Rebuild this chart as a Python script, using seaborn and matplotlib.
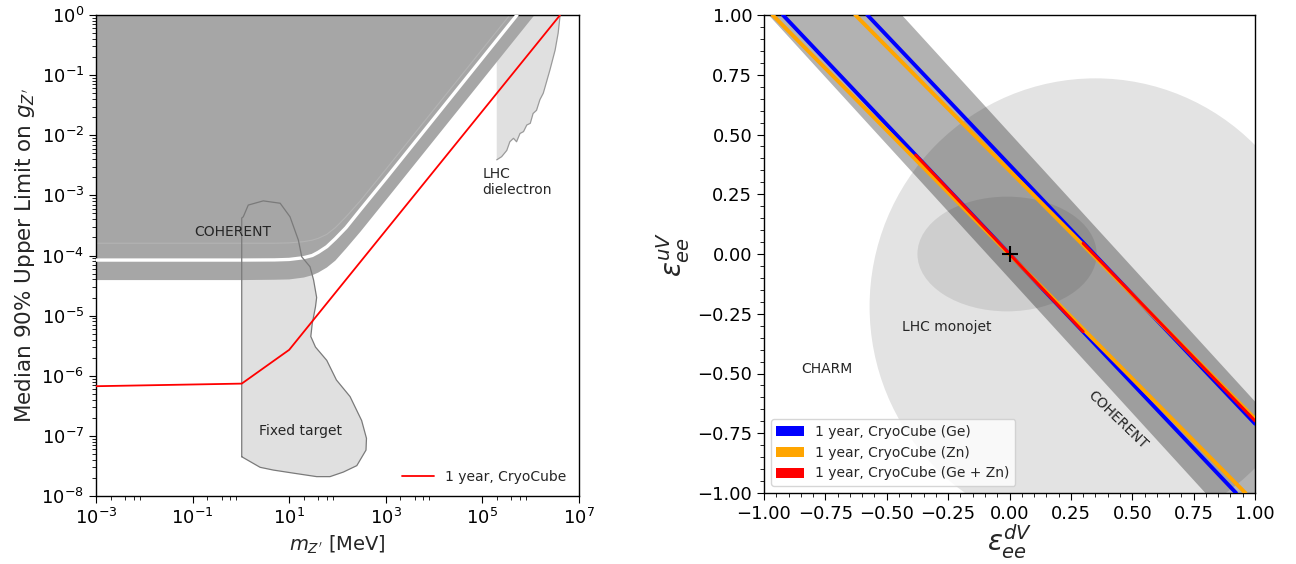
import matplotlib
matplotlib.use("Agg")
import matplotlib.pyplot as plt
from matplotlib.patches import Ellipse, Patch
from matplotlib.ticker import FixedLocator, LogLocator, NullFormatter, AutoMinorLocator
import seaborn as sns

# ---- left panel: Z' mass vs coupling ----
coh_low_m = [1e-3, 1e0, 5e0, 1e1, 2e1, 3e1, 4e1, 6e1, 9e1, 1.5e2, 3e2, 1e3, 1.2e6]
coh_low_g = [3.9e-5, 3.9e-5, 3.95e-5, 4.0e-5, 4.3e-5, 4.7e-5, 5.2e-5, 6.3e-5, 8.2e-5, 1.3e-4, 2.5e-4, 8.3e-4, 1.0]
coh_mid_m = [1e-3, 1e0, 5e0, 1e1, 2e1, 3e1, 4e1, 6e1, 9e1, 1.5e2, 3e2, 1e3, 5.2e5]
coh_mid_g = [8.4e-5, 8.4e-5, 8.45e-5, 8.6e-5, 9.2e-5, 1.0e-4, 1.13e-4, 1.4e-4, 1.9e-4, 2.9e-4, 5.8e-4, 1.9e-3, 1.0]
coh_top_m = [1e-3, 1e0, 5e0, 1e1, 2e1, 3e1, 4e1, 6e1, 9e1, 1.5e2, 3e2, 1e3, 3.7e5]
coh_top_g = [1.6e-4, 1.6e-4, 1.6e-4, 1.62e-4, 1.7e-4, 1.8e-4, 1.93e-4, 2.25e-4, 2.9e-4, 4.4e-4, 8.2e-4, 2.7e-3, 1.0]

fixed_m = [1.04, 1.04, 1.12, 1.42, 2.9, 6.5, 10.4, 15.5, 18.2, 27, 32, 37, 35, 30, 28,
           35, 60, 95, 182, 316, 398, 389, 251, 132, 70, 37, 12.2, 4.7, 2.5]
fixed_g = [4.5e-8, 4.2e-4, 4.4e-4, 6.9e-4, 8.1e-4, 7.4e-4, 4.4e-4, 1.8e-4, 9.5e-5, 6.5e-5,
           3.9e-5, 2.0e-5, 1.4e-5, 7.4e-6, 4.5e-6, 3.0e-6, 1.8e-6, 8.5e-7, 4.5e-7, 1.8e-7,
           9.1e-8, 5.8e-8, 3.2e-8, 2.5e-8, 2.1e-8, 2.1e-8, 2.4e-8, 2.7e-8, 3.0e-8]

lhc_di_m = [1.98e5, 1.98e5, 2.5e5, 3.2e5, 3.7e5, 4.4e5, 5.1e5, 6.0e5, 7.1e5, 8.3e5, 9.8e5,
            1.12e6, 1.32e6, 1.55e6, 1.82e6, 2.0e6, 2.5e6, 3.2e6, 3.7e6, 4.07e6]
lhc_di_g = [1.0, 3.9e-3, 4.4e-3, 5.6e-3, 7.8e-3, 8.9e-3, 7.8e-3, 1.07e-2, 1.15e-2, 1.48e-2,
            1.58e-2, 2.3e-2, 2.6e-2, 3.9e-2, 5.0e-2, 6.5e-2, 0.122, 0.26, 0.5, 1.0]

cryo_m = [1e-3, 1.04, 10.0, 4.07e6]
cryo_g = [6.7e-7, 7.4e-7, 2.7e-6, 1.0]

# ---- right panel: epsilon_ee^dV vs epsilon_ee^uV ----
band_x = [-1.2, 1.2]
band_lo = [1.246, -1.452]
band_hi = [1.856, -0.842]
ge_lines = [([-0.923, 0.923], [1.0, -1.0]), ([-0.579, 1.0], [1.0, -0.710])]
zn_lines = [([-0.965, 0.961], [1.0, -1.0]), ([-0.628, 1.0], [1.0, -0.689])]
gezn_lines = [([-0.382, 0.30], [0.414, -0.325]), ([0.30, 1.0], [0.045, -0.698])]
charm_center, charm_w, charm_h = (0.35, -0.22), 1.84, 1.91
monojet_center, monojet_w, monojet_h = (-0.01, 0.0), 0.73, 0.48
legend_labels = ["1 year, CryoCube (Ge)", "1 year, CryoCube (Zn)", "1 year, CryoCube (Ge + Zn)"]
legend_colors = ["blue", "orange", "red"]

sns.set_style("ticks")
plt.rcParams.update({
    "font.family": ["DejaVu Sans"],
    "axes.edgecolor": "black",
    "xtick.color": "black",
    "ytick.color": "black",
    "xtick.labelsize": 13,
    "ytick.labelsize": 13,
    "xtick.major.size": 5,
    "ytick.major.size": 5,
    "xtick.minor.size": 3,
    "ytick.minor.size": 3,
    "mathtext.fontset": "dejavusans",
})

fig = plt.figure(figsize=(12.96, 5.64), dpi=100)
W, H = 1296, 564
ax1 = fig.add_axes([96 / W, (H - 496) / H, 483 / W, 481 / H])
ax2 = fig.add_axes([764 / W, (H - 493) / H, 491 / W, 478 / H])

# left panel
ax1.set_xscale("log")
ax1.set_yscale("log")
ax1.fill(fixed_m, fixed_g, facecolor="#e0e0e0", edgecolor="none", zorder=1)
ax1.fill_betweenx(lhc_di_g, [lhc_di_m[0]] * len(lhc_di_g), lhc_di_m,
                  facecolor="#e0e0e0", edgecolor="none", zorder=1)
ax1.plot(lhc_di_m[1:], lhc_di_g[1:], color="#9a9a9a", lw=0.9, zorder=1.5)
ax1.fill_between(coh_low_m, coh_low_g, 1.0, facecolor="#a6a6a6", edgecolor="none", zorder=2)
ax1.plot(coh_top_m, coh_top_g, color="#b3b3b3", lw=0.8, zorder=2.5)
ax1.plot(coh_mid_m, coh_mid_g, color="white", lw=2.4, zorder=3)
ax1.plot(fixed_m + fixed_m[:1], fixed_g + fixed_g[:1], color="#7a7a7a", lw=0.9, zorder=3)
sns.lineplot(x=cryo_m, y=cryo_g, color="red", lw=1.3, label="1 year, CryoCube", ax=ax1, zorder=4)

ax1.text(0.69, 2.45e-4, "COHERENT", fontsize=10, ha="center", va="center", zorder=5)
ax1.text(1.0e5, 1.66e-3, "LHC\ndielectron", fontsize=10, ha="left", va="center", zorder=5)
ax1.text(17, 1.2e-7, "Fixed target", fontsize=10, ha="center", va="center", zorder=5)

ax1.set_xlim(1e-3, 1e7)
ax1.set_ylim(1e-8, 1)
ax1.xaxis.set_major_locator(FixedLocator([10.0 ** k for k in range(-3, 8, 2)]))
ax1.xaxis.set_minor_locator(FixedLocator([s * 10.0 ** k for k in range(-3, 7, 2) for s in (2, 4, 6, 8)]))
ax1.xaxis.set_minor_formatter(NullFormatter())
ax1.yaxis.set_major_locator(LogLocator(base=10, numticks=20))
ax1.yaxis.set_minor_locator(LogLocator(base=10, subs=range(2, 10), numticks=100))
ax1.yaxis.set_minor_formatter(NullFormatter())
ax1.set_xlabel(r"$m_{Z'}$ [MeV]", fontsize=14)
ax1.set_ylabel(r"Median 90% Upper Limit on $g_{Z'}$", fontsize=15.5, labelpad=3)
ax1.legend(loc="lower right", frameon=False, fontsize=10, handlelength=2.3)

# right panel
ax2.add_patch(Ellipse(charm_center, charm_w, charm_h, facecolor="black", alpha=0.11,
                      edgecolor="none", zorder=1))
ax2.fill_between(band_x, band_lo, band_hi, facecolor="black", alpha=0.30, edgecolor="none", zorder=2)
ax2.add_patch(Ellipse(monojet_center, monojet_w, monojet_h, facecolor="black", alpha=0.09,
                      edgecolor="none", zorder=3))

for xs, ys in ge_lines:
    sns.lineplot(x=xs, y=ys, color="blue", lw=2.8, ax=ax2, zorder=4)
for xs, ys in zn_lines:
    sns.lineplot(x=xs, y=ys, color="orange", lw=2.8, ax=ax2, zorder=4)
for xs, ys in gezn_lines:
    sns.lineplot(x=xs, y=ys, color="red", lw=2.2, ax=ax2, zorder=5)
ax2.plot([0], [0], marker="+", color="black", ms=12, mew=1.5, zorder=6)

ax2.text(-0.743, -0.48, "CHARM", fontsize=10, ha="center", va="center")
ax2.text(-0.256, -0.304, "LHC monojet", fontsize=10, ha="center", va="center")
ax2.text(0.441, -0.696, "COHERENT", fontsize=10, ha="center", va="center", rotation=-44)

ax2.set_xlim(-1, 1)
ax2.set_ylim(-1, 1)
ax2.xaxis.set_minor_locator(AutoMinorLocator(5))
ax2.yaxis.set_minor_locator(AutoMinorLocator(5))
ax2.set_xlabel(r"$\epsilon_{ee}^{dV}$", fontsize=20, labelpad=0)
ax2.set_ylabel(r"$\epsilon_{ee}^{uV}$", fontsize=20)
handles = [Patch(facecolor=c, edgecolor="none") for c in legend_colors]
ax2.legend(handles, legend_labels, loc="lower left", fontsize=10, framealpha=0.8, edgecolor="0.8")

for ax in (ax1, ax2):
    for sp in ax.spines.values():
        sp.set_visible(True)
        sp.set_linewidth(1.0)

fig.savefig("out.png", dpi=100)
